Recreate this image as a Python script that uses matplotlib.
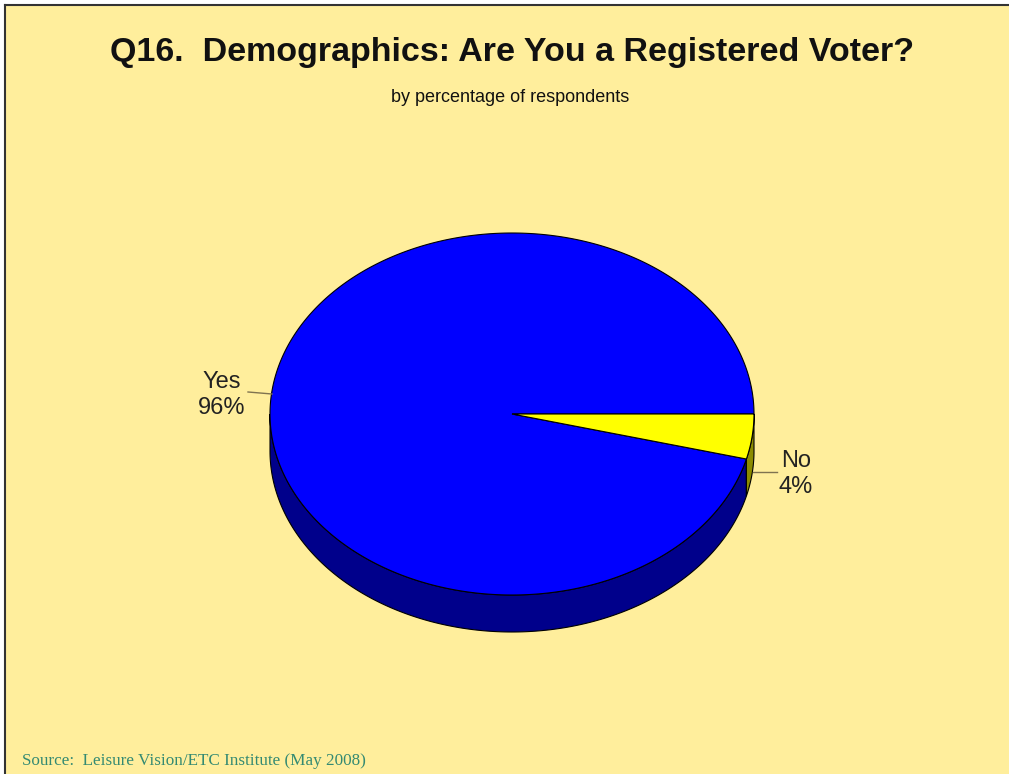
import numpy as np
import matplotlib.pyplot as plt
from matplotlib.patches import Polygon, Rectangle

# datos del grafico
labels = ['Yes', 'No']
values = [96, 4]
top_colors = ['#0000FF', '#FFFF00']
side_colors = ['#00008B', '#8B8B00']

title = 'Q16.  Demographics: Are You a Registered Voter?'
subtitle = 'by percentage of respondents'
source = 'Source:  Leisure Vision/ETC Institute (May 2008)'

# geometria del pastel (pixeles)
cx, cy = 512, 414
rx, ry = 242, 181
depth = 37

fig = plt.figure(figsize=(10.09, 7.74), dpi=100)
ax = fig.add_axes([0, 0, 1, 1])
ax.set_xlim(0, 1009)
ax.set_ylim(774, 0)
ax.axis('off')

# fondo y borde
ax.add_patch(Rectangle((5, 5), 1004, 769, facecolor='#FFEE9C', edgecolor='none', zorder=0))
ax.plot([5, 5], [5, 774], color='#333333', lw=1.5, zorder=1)
ax.plot([5, 1009], [5, 5], color='#333333', lw=1.5, zorder=1)


def pt(t):
    return cx + rx * np.cos(t), cy - ry * np.sin(t)


# angulos de cada rebanada (Yes en sentido antihorario desde 0)
total = sum(values)
starts = []
a = 0.0
for v in values:
    starts.append(a)
    a += 360.0 * v / total

# paredes laterales (solo la mitad frontal)
for i, v in enumerate(values):
    a0 = starts[i]
    a1 = a0 + 360.0 * v / total
    lo = max(a0, 180.0)
    hi = min(a1, 360.0)
    if hi <= lo:
        continue
    t = np.radians(np.linspace(lo, hi, 200))
    xs, ys = pt(t)
    px = np.concatenate([xs, xs[::-1]])
    py = np.concatenate([ys, ys[::-1] + depth])
    ax.add_patch(Polygon(np.column_stack([px, py]), closed=True,
                         facecolor=side_colors[i], edgecolor='black', lw=0.8, zorder=2))

# caras superiores
for i, v in enumerate(values):
    a0 = starts[i]
    a1 = a0 + 360.0 * v / total
    t = np.radians(np.linspace(a0, a1, 400))
    xs, ys = pt(t)
    px = np.concatenate([[cx], xs])
    py = np.concatenate([[cy], ys])
    ax.add_patch(Polygon(np.column_stack([px, py]), closed=True,
                         facecolor=top_colors[i], edgecolor='black', lw=0.8, zorder=3))

# etiquetas
ax.plot([248, 272], [392, 394], color='#7f7350', lw=1, zorder=4)
ax.text(222, 395, labels[0] + '\n' + str(values[0]) + '%', ha='center', va='center',
        fontsize=17, family='Liberation Sans', color='#222222', linespacing=1.2)
ax.plot([753, 777], [472, 472], color='#7f7350', lw=1, zorder=4)
ax.text(796, 474, labels[1] + '\n' + str(values[1]) + '%', ha='center', va='center',
        fontsize=17, family='Liberation Sans', color='#222222', linespacing=1.2)

# titulos
ax.text(512, 52, title, ha='center', va='center', fontsize=24.5, fontweight='bold',
        family='Liberation Sans', color='#111111')
ax.text(510, 97, subtitle, ha='center', va='center', fontsize=13,
        family='Liberation Sans', color='#111111')
ax.text(22, 761, source, ha='left', va='center', fontsize=12.3,
        family='Liberation Serif', color='#348A72')

fig.savefig('out.png', dpi=100)
